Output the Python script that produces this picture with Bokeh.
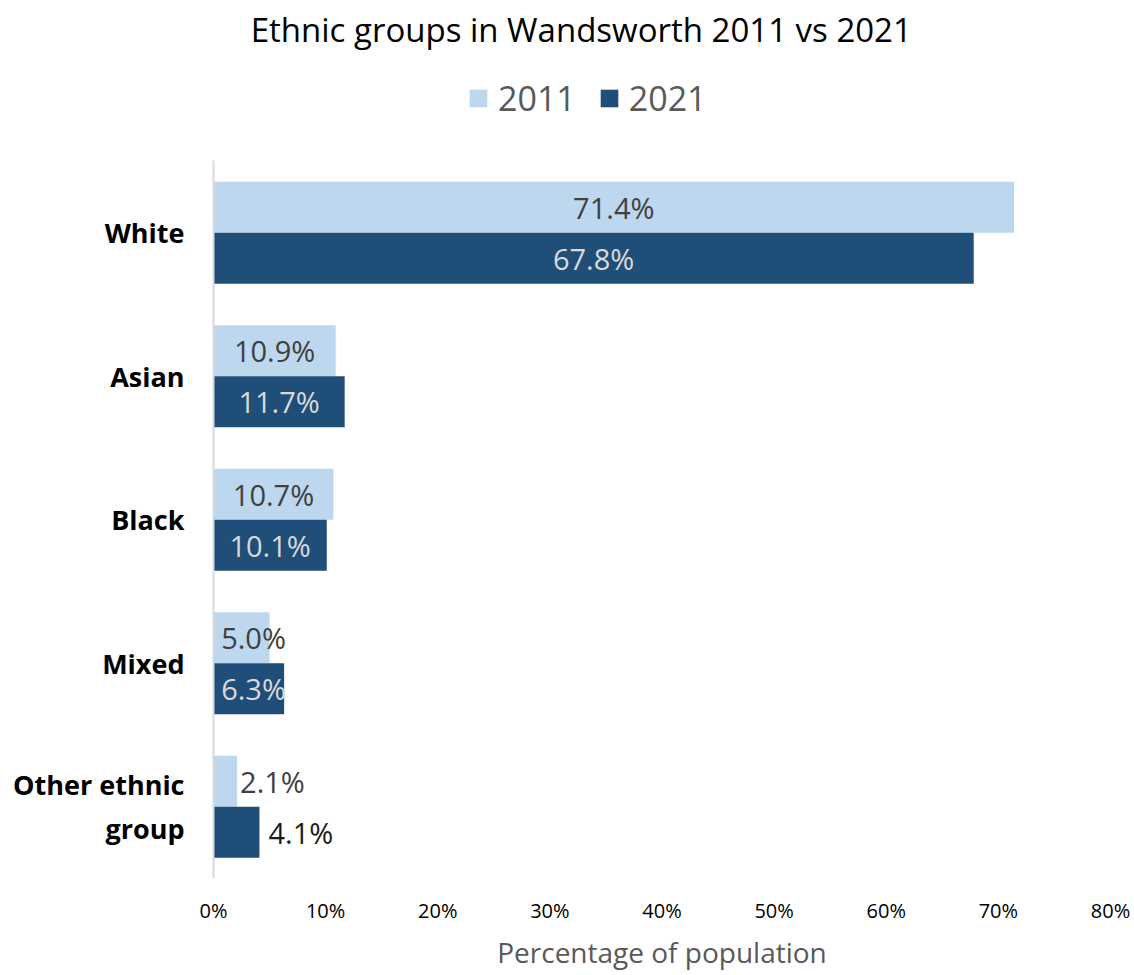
from bokeh.plotting import figure
from bokeh.models import (ColumnDataSource, Range1d, FixedTicker,
                          PrintfTickFormatter, Legend, LegendItem, Label)
from bokeh.transform import dodge
from bokeh.core.properties import value
from bokeh.embed import file_html
from bokeh.resources import INLINE

categories = ["White", "Asian", "Black", "Mixed", "Other ethnic\ngroup"]
values_2011 = [71.4, 10.9, 10.7, 5.0, 2.1]
values_2021 = [67.8, 11.7, 10.1, 6.3, 4.1]
series_names = ["2011", "2021"]
x_ticks = [0, 10, 20, 30, 40, 50, 60, 70, 80]
chart_title = "Ethnic groups in Wandsworth 2011 vs 2021"

FONT = "Open Sans"
C2011 = "#BDD7EE"
C2021 = "#1F4E79"

n = len(categories)
# category centres on a numeric axis: first category at the top
cat_pos = [n - i - 0.5 for i in range(n)]

p = figure(width=1132, height=973, output_backend="svg", toolbar_location=None,
           y_range=Range1d(0, 6.118), x_range=Range1d(0, 80),
           min_border_left=213, min_border_right=22, min_border_top=0, min_border_bottom=95)
p.outline_line_color = None
p.xgrid.grid_line_color = None
p.ygrid.grid_line_color = None
p.background_fill_color = "white"
p.border_fill_color = "white"

PX_PER_UNIT = 11.2  # approximate screen pixels per percentage point, for label nudging


def label_cols(vals, inside_color, outside_color, out_off):
    lx, align, off, col, txt = [], [], [], [], []
    for v in vals:
        txt.append(f"{v:.1f}%")
        if v >= 4.5:
            lx.append(v / 2.0); align.append("center")
            off.append(max(0.0, 40 - v * PX_PER_UNIT / 2)); col.append(inside_color)
        else:
            lx.append(v); align.append("left"); off.append(out_off); col.append(outside_color)
    return dict(lx=lx, align=align, off=off, col=col, txt=txt)


src11 = ColumnDataSource(dict(pos=cat_pos, v=values_2011, **label_cols(values_2011, "#404040", "#404040", 3)))
src21 = ColumnDataSource(dict(pos=cat_pos, v=values_2021, **label_cols(values_2021, "#D9D9D9", "#1A1A1A", 9)))

BAR_H = 0.355
r11 = p.hbar(y=dodge("pos", BAR_H / 2), right="v", left=0, height=BAR_H,
             source=src11, fill_color=C2011, line_color=None)
r21 = p.hbar(y=dodge("pos", -BAR_H / 2), right="v", left=0, height=BAR_H,
             source=src21, fill_color=C2021, line_color=None)

for src, off in ((src11, BAR_H / 2), (src21, -BAR_H / 2)):
    p.text(x="lx", y=dodge("pos", off), text="txt", source=src,
           text_align="align", x_offset="off", text_baseline="middle",
           text_color="col", text_font=value(FONT), text_font_size="29px")

# y axis: category names
p.yaxis.ticker = FixedTicker(ticks=cat_pos)
p.yaxis.major_label_overrides = {pos: name for pos, name in zip(cat_pos, categories)}
p.yaxis.bounds = (0, n)
p.yaxis.axis_line_color = "#D9D9D9"
p.yaxis.axis_line_width = 2
p.yaxis.major_tick_line_color = None
p.yaxis.minor_tick_line_color = None
p.yaxis.major_label_text_font = FONT
p.yaxis.major_label_text_font_style = "bold"
p.yaxis.major_label_text_font_size = "27px"
p.yaxis.major_label_text_color = "#000000"
p.yaxis.major_label_standoff = 23

# x axis
p.xaxis.ticker = FixedTicker(ticks=x_ticks)
p.xaxis.formatter = PrintfTickFormatter(format="%d%%")
p.xaxis.axis_line_color = None
p.xaxis.major_tick_line_color = None
p.xaxis.minor_tick_line_color = None
p.xaxis.major_label_text_font = FONT
p.xaxis.major_label_text_font_size = "20px"
p.xaxis.major_label_text_color = "#000000"
p.xaxis.major_label_standoff = 12
p.xaxis.axis_label = "Percentage of population"
p.xaxis.axis_label_text_font = FONT
p.xaxis.axis_label_text_font_size = "28px"
p.xaxis.axis_label_text_font_style = "normal"
p.xaxis.axis_label_text_color = "#595959"
p.xaxis.axis_label_standoff = 6

# title
title = Label(x=32.8, y=5.916, text=chart_title,
              text_align="center", text_baseline="middle", text_font=FONT,
              text_font_size="33px", text_color="#000000")
p.add_layout(title)

legend = Legend(items=[LegendItem(label=series_names[0], renderers=[r11]),
                       LegendItem(label=series_names[1], renderers=[r21])],
                orientation="horizontal", location=(254, 757),
                label_text_font=FONT, label_text_font_size="34px", label_text_color="#595959",
                glyph_width=22, glyph_height=22, spacing=22, label_standoff=9,
                background_fill_alpha=0, border_line_color=None, padding=4, margin=0)
p.add_layout(legend)

open("out.html", "w").write(file_html(p, INLINE))
